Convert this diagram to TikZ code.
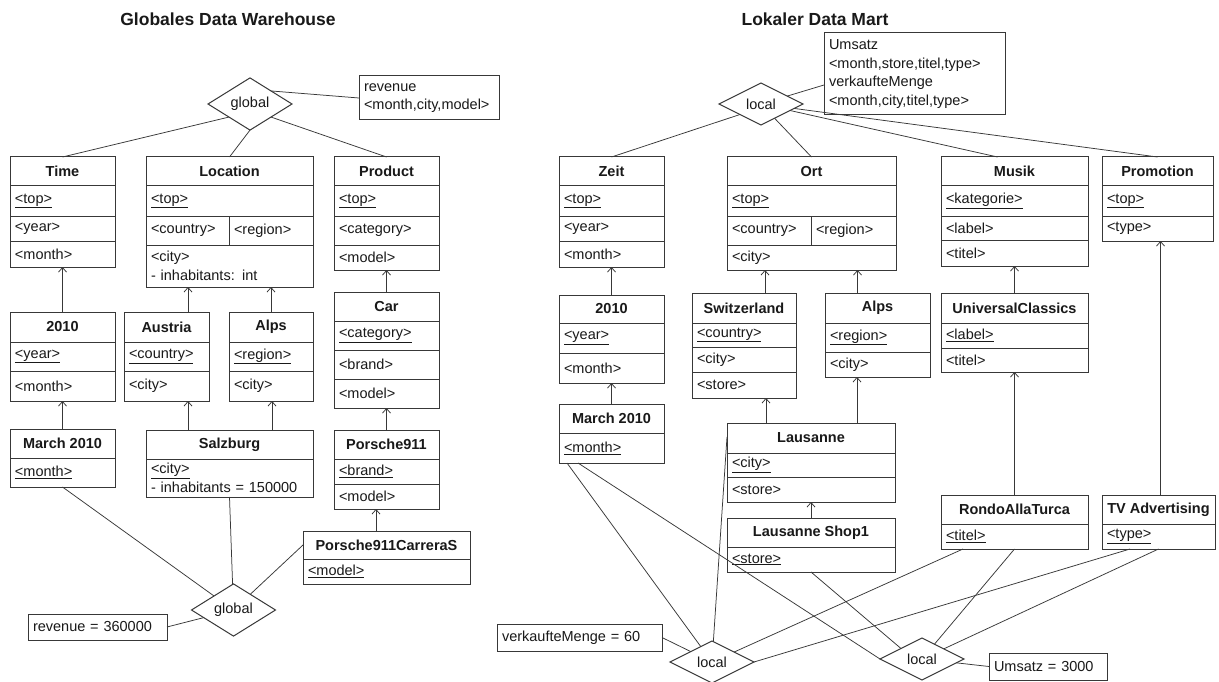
\documentclass[tikz,border=0pt]{standalone}
\usepackage{fontspec}
\setmainfont{Liberation Sans}
\usetikzlibrary{shapes.geometric,arrows.meta}

\newcommand\fs{\fontsize{14.5}{18.5}\selectfont}
\definecolor{linec}{gray}{0.22}
\definecolor{txt}{gray}{0.1}

\tikzset{
  base/.style={draw=linec, line width=1pt, inner sep=0pt, outer sep=0pt, anchor=north west, font=\fs, text=txt},
  hdr/.style={base, font=\fs\bfseries},
  cell/.style={base, align=left, inner xsep=5pt},
  note/.style={base, align=left, inner xsep=5pt},
  dia/.style={diamond, draw=linec, line width=1pt, inner sep=0pt, outer sep=0pt, minimum width=84, minimum height=42, font=\fs, text=txt},
  link/.style={draw=linec, line width=0.75pt},
  gen/.style={link, -{Straight Barb[length=4.5pt,width=8pt]}},
  title/.style={font=\fontsize{17.5}{20}\selectfont\bfseries, text=txt}
}

% class header: name, position, width, height, text
\newcommand\headnode[5]{\node[hdr, minimum width=#3, minimum height=#4] (#1) at (#2) {#5};}
% class compartment below another node: name, node above, width, height, text
\newcommand\cellnode[5]{\pgfmathsetmacro\cw{#3-10}\node[cell, text width=\cw pt, minimum height=#4] (#1) at (#2.south west) {#5};}
% generalisation arrow from a lower class up to an upper one: lower, upper compartment, x offset
\newcommand\genlink[3]{\coordinate (#1-#2) at ([xshift=#3]#1.north); \draw[gen] (#1-#2) -- (#1-#2 |- #2.south);}

\begin{document}
\begin{tikzpicture}[x=1pt,y=-1pt]
\fill[white] (0,0) rectangle (1219,682);
\useasboundingbox (0,0) rectangle (1219,682);

% ---------------- global data warehouse ----------------
\node[title] (t1) at (228,19) {Globales Data Warehouse};

\headnode{time}{10,157}{105}{29}{Time}
\cellnode{time1}{time}{105}{30}{\underline{<top>}}
\cellnode{time2}{time1}{105}{25}{<year>}
\cellnode{time3}{time2}{105}{26}{<month>}

\headnode{loc}{146,157}{167}{29}{Location}
\cellnode{loc1}{loc}{167}{30}{\underline{<top>}}
\cellnode{loc2}{loc1}{83}{29}{<country>}
\node[cell, text width=74pt, minimum height=29] (loc2b) at (loc2.north east) {<region>};
\cellnode{loc3}{loc2}{167}{42}{<city>\\- inhabitants: int}

\headnode{prod}{334,157}{105}{29}{Product}
\cellnode{prod1}{prod}{105}{30}{\underline{<top>}}
\cellnode{prod2}{prod1}{105}{29}{<category>}
\cellnode{prod3}{prod2}{105}{25}{<model>}

\headnode{yr}{10,312}{105}{30}{2010}
\cellnode{yr1}{yr}{105}{29}{\underline{<year>}}
\cellnode{yr2}{yr1}{105}{30}{<month>}

\headnode{aut}{124,312}{85}{30}{Austria}
\cellnode{aut1}{aut}{85}{29}{\underline{<country>}}
\cellnode{aut2}{aut1}{85}{30}{<city>}

\headnode{alps}{229,312}{84}{30}{Alps}
\cellnode{alps1}{alps}{84}{29}{\underline{<region>}}
\cellnode{alps2}{alps1}{84}{30}{<city>}

\headnode{car}{334,292}{105}{29}{Car}
\cellnode{car1}{car}{105}{29}{\underline{<category>}}
\cellnode{car2}{car1}{105}{29}{<brand>}
\cellnode{car3}{car2}{105}{29}{<model>}

\headnode{mar}{10,429}{105}{29}{March 2010}
\cellnode{mar1}{mar}{105}{29}{\underline{<month>}}

\headnode{salz}{146,430}{167}{29}{Salzburg}
\cellnode{salz1}{salz}{167}{38}{\underline{<city>}\\- inhabitants = 150000}

\headnode{pa}{334,430}{105}{29}{Porsche911}
\cellnode{pa1}{pa}{105}{25}{\underline{<brand>}}
\cellnode{pa2}{pa1}{105}{25}{<model>}

\headnode{pcs}{303,531}{167}{28}{Porsche911CarreraS}
\cellnode{pcs1}{pcs}{167}{25}{\underline{<model>}}

\node[dia] (gtop) at (250,104) {global};
\node[dia] (gbot) at (233.5,610) {global};
\node[note, text width=130pt, minimum height=44] (rev) at (359,76) {revenue\\<month,city,model>};
\node[note, text width=129pt, minimum height=26] (revv) at (28,614) {revenue = 360000};

\draw[link] (gtop.south west) -- (time.north);
\draw[link] (gtop.south) -- (loc.north);
\draw[link] (gtop.south east) -- (prod.north);
\draw[link] (gtop.north east) -- (rev.west);

\genlink{yr}{time3}{0}
\genlink{aut}{loc3}{21.5}
\genlink{alps}{loc3}{0}
\genlink{car}{prod3}{0}
\genlink{mar}{yr2}{0}
\genlink{salz}{aut2}{-41.5}
\genlink{salz}{alps2}{42.5}
\genlink{pa}{car3}{0}
\genlink{pcs}{pa2}{-10.5}

\draw[link] (mar1.south) -- (gbot);
\draw[link] (salz1.south) -- (gbot);
\draw[link] (pcs.west) -- (gbot);
\draw[link] (revv.east) -- (gbot);

% ---------------- local data mart ----------------
\node[title] (t2) at (815,19) {Lokaler Data Mart};

\headnode{zeit}{559,157}{105}{29}{Zeit}
\cellnode{zeit1}{zeit}{105}{30}{\underline{<top>}}
\cellnode{zeit2}{zeit1}{105}{25}{<year>}
\cellnode{zeit3}{zeit2}{105}{26}{<month>}

\headnode{ort}{727,157}{169}{29}{Ort}
\cellnode{ort1}{ort}{169}{30}{\underline{<top>}}
\cellnode{ort2}{ort1}{84}{29}{<country>}
\node[cell, text width=75pt, minimum height=29] (ort2b) at (ort2.north east) {<region>};
\cellnode{ort3}{ort2}{169}{25}{<city>}

\headnode{mus}{941,157}{147}{29}{Musik}
\cellnode{mus1}{mus}{147}{30}{\underline{<kategorie>}}
\cellnode{mus2}{mus1}{147}{24}{<label>}
\cellnode{mus3}{mus2}{147}{26}{<titel>}

\headnode{promo}{1102,157}{111}{29}{Promotion}
\cellnode{promo1}{promo}{111}{30}{\underline{<top>}}
\cellnode{promo2}{promo1}{111}{25}{<type>}

\headnode{zyr}{559,295}{105}{28}{2010}
\cellnode{zyr1}{zyr}{105}{30}{\underline{<year>}}
\cellnode{zyr2}{zyr1}{105}{30}{<month>}

\headnode{zmar}{559,404}{105}{29}{March 2010}
\cellnode{zmar1}{zmar}{105}{30}{\underline{<month>}}

\headnode{ch}{692,293}{104}{30}{Switzerland}
\cellnode{ch1}{ch}{104}{24}{\underline{<country>}}
\cellnode{ch2}{ch1}{104}{25}{<city>}
\cellnode{ch3}{ch2}{104}{26}{<store>}

\headnode{ralps}{825,293}{105}{30}{Alps}
\cellnode{ralps1}{ralps}{105}{29}{\underline{<region>}}
\cellnode{ralps2}{ralps1}{105}{25}{<city>}

\headnode{uc}{941,293}{147}{30}{UniversalClassics}
\cellnode{uc1}{uc}{147}{25}{\underline{<label>}}
\cellnode{uc2}{uc1}{147}{24}{<titel>}

\headnode{lau}{727,423}{168}{30}{Lausanne}
\cellnode{lau1}{lau}{168}{24}{\underline{<city>}}
\cellnode{lau2}{lau1}{168}{25}{<store>}

\headnode{shop}{727,518}{168}{29}{Lausanne Shop1}
\cellnode{shop1}{shop}{168}{25}{\underline{<store>}}

\headnode{rondo}{941,495}{147}{29}{RondoAllaTurca}
\cellnode{rondo1}{rondo}{147}{25}{\underline{<titel>}}

\headnode{tv}{1102,495}{113}{29}{TV Advertising}
\cellnode{tv1}{tv}{113}{25}{\underline{<type>}}

\node[dia] (ltop) at (761,104) {local};
\node[dia] (lleft) at (712,662) {local};
\node[dia] (lright) at (922,659) {local};
\node[note, text width=171pt, minimum height=82] (ums) at (824,33) {Umsatz\\<month,store,titel,type>\\verkaufteMenge\\<month,city,titel,type>};
\node[note, text width=155pt, minimum height=27] (vm) at (497,624) {verkaufteMenge = 60};
\node[note, text width=108pt, minimum height=27] (umsv) at (989,653) {Umsatz = 3000};

\draw[link] (ltop.south west) -- (zeit.north);
\draw[link] (ltop) -- (ort.north);
\draw[link] (ltop) -- ([xshift=-17]mus.north);
\draw[link] (ltop) -- (promo.north);
\draw[link] (ltop) -- ([yshift=-11]ums.west);

\genlink{zyr}{zeit3}{0}
\genlink{zmar}{zyr2}{0}
\genlink{ch}{ort3}{21}
\genlink{ralps}{ort3}{-20}
\genlink{lau}{ch3}{-45}
\genlink{lau}{ralps2}{46}
\genlink{shop}{lau2}{0}
\genlink{uc}{mus3}{0}
\genlink{rondo}{uc2}{0}
\genlink{tv}{promo2}{2}

\draw[link] (vm.east) -- (lleft);
\draw[link] ([xshift=8]zmar1.south west) -- (lleft);
\draw[link] ([yshift=-14]lau.north west) -- (lleft);
\draw[link] ([xshift=22]rondo1.south west) -- (lleft);
\draw[link] ([xshift=28]tv1.south west) -- (lleft.east);

\draw[link] ([xshift=19]zmar1.south west) -- (lright.west);
\draw[link] (shop1.south) -- (lright.north west);
\draw[link] (rondo1.south) -- (lright);
\draw[link] (tv1.south) -- (lright);
\draw[link] (lright) -- (umsv.west);
\end{tikzpicture}
\end{document}
